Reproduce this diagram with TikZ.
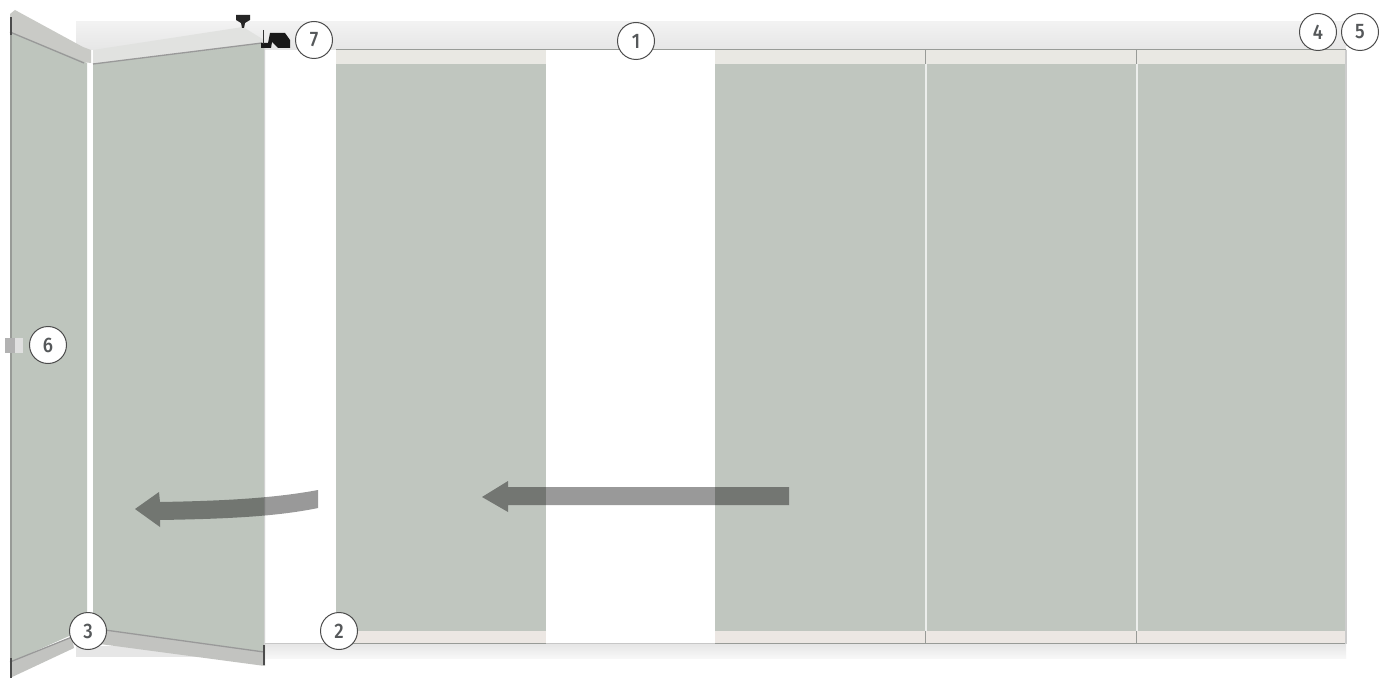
\documentclass[tikz,border=0pt]{standalone}
\usepackage{fontspec}
\setmainfont{Fira Sans}[UprightFont=* Medium,FakeStretch=0.88]
\definecolor{glass}{HTML}{C0C6BF}
\definecolor{glassb}{HTML}{BEC5BD}
\definecolor{strip}{HTML}{E9E8E3}
\definecolor{stripb}{HTML}{ECE7E3}
\definecolor{railtop}{HTML}{F2F2F2}
\definecolor{railbot}{HTML}{E6E6E6}
\definecolor{band}{HTML}{C9CAC6}
\definecolor{bandd}{HTML}{C2C3C0}
\definecolor{edge}{HTML}{989B97}
\definecolor{num}{HTML}{55585A}
\tikzset{
  x=1pt,y=-1pt,
  glasspanel/.style={fill=glass,draw=none},
  stripe/.style={fill=strip,draw=none},
  bstripe/.style={fill=stripb,draw=none},
  edgeline/.style={draw=edge,line width=1.5pt},
  darkline/.style={draw=black!70,line width=2pt},
  seam/.style={draw=white!70!glass,line width=2pt},
  moveArrow/.style={fill=black,fill opacity=.4,draw=none},
  callout/.style={circle,draw=black!70,line width=1pt,fill=white,minimum size=37pt,inner sep=0pt,text=num,font=\fontsize{21}{21}\selectfont}
}
\begin{document}
\begin{tikzpicture}
\useasboundingbox (0,0) rectangle (1390,679);
\fill[white] (0,0) rectangle (1390,679);
% top rail
\shade[top color=railtop,bottom color=railbot] (76,22) rectangle (1346,50);
% bottom rail
\shade[top color=railbot,bottom color=railtop!60!white] (265,644) rectangle (1346,658);
\fill[railbot] (76,646) rectangle (265,657);
% white gaps under the top rail
\fill[white] (265,50) rectangle (336,643);
\fill[white] (546,50) rectangle (715,643);
% header and foot strips
\foreach \a/\b in {336/546,715/925,926/1136,1137/1346}{
  \fill[stripe] (\a,50) rectangle (\b,64);
  \fill[glasspanel] (\a,64) rectangle (\b,631);
  \fill[bstripe] (\a,631) rectangle (\b,643);
}
\draw[edgeline] (336,49.5) -- (1346,49.5);
\draw[draw=black!22,line width=1.5pt] (265,643.5) -- (336,643.5);
\draw[draw=black!22,line width=1.5pt] (546,643.5) -- (715,643.5);
\draw[edgeline] (336,643.5) -- (546,643.5);
\draw[edgeline] (715,643.5) -- (1346,643.5);
\draw[draw=black!20,line width=1.5pt] (1346,50) -- (1346,644);
\foreach \s in {925.5,1136.5}{
  \draw[seam] (\s,64) -- (\s,631);
  \draw[draw=edge,line width=1.2pt] (\s,50) -- (\s,64);
  \draw[draw=edge,line width=1.2pt] (\s,631) -- (\s,644);
}
% folded leaf, top frame and bottom frame
\fill[band] (15,10) -- (83,47) -- (91,50) -- (91,63) -- (82,62) -- (10,32) -- (10,14) -- cycle;
\fill[band!55!white] (93,50) -- (243,27) -- (264,40) -- (264,44) -- (93,64) -- cycle;
\fill[bandd] (10,662) -- (72,637) -- (74,648) -- (10,678) -- cycle;
\fill[bandd] (105,629) -- (265,652) -- (265,666) -- (100,644) -- cycle;
% glass leaves
\fill[glassb] (11,32) -- (87,63) -- (87,628) -- (11,662) -- cycle;
\fill[glassb] (93,64) -- (265,43) -- (265,652) -- (93,628) -- cycle;
\draw[draw=black!40,line width=1.3pt] (10,32) -- (84,63);
\draw[draw=black!40,line width=1.3pt] (93,64) -- (262,43);
\draw[draw=black!40,line width=1.3pt] (10,662) -- (72,637);
\draw[draw=black!40,line width=1.3pt] (105,630) -- (264,652);
\draw[draw=edge,line width=2pt] (10.5,32) -- (10.5,662);
\draw[draw=black!18,line width=1pt] (264.5,44) -- (264.5,652);
% dark hinge lines
\draw[darkline] (10.5,17) -- (10.5,35);
\draw[darkline] (10.5,658) -- (10.5,678);
\draw[darkline] (264,645) -- (264,665);
% hardware
\fill[black!85] (236,15) -- (250,15) -- (250,20) -- (245,23) -- (244,28) -- (242,28) -- (241,23) -- (236,20) -- cycle;
\fill[black!90] (261,43) -- (268,43) -- (270,33) -- (285,33) -- (290,40) -- (290,48) -- (278,48) -- (272,42) -- (271,48) -- (261,48) -- cycle;
\draw[draw=black!80,line width=.7pt] (263,30) -- (263,44);
\fill[black!30] (5,338) rectangle (15,353);
\fill[black!12] (15,338) rectangle (23,353);
% movement arrows
\fill[moveArrow] (789,487) -- (508,487) -- (508,481) -- (482,497) -- (508,512) -- (508,505) -- (789,505) -- cycle;
\fill[moveArrow] (318,490) .. controls (270,499) and (215,501) .. (160,502) -- (159,492) -- (135,509) -- (160,527) -- (160,520) .. controls (220,519) and (275,517) .. (318,508) -- cycle;
% callouts
\node[callout] (n1) at (636,41) {1};
\node[callout] (n7) at (314,40) {7};
\node[callout] (n4) at (1318,32) {4};
\node[callout] (n5) at (1360,32) {5};
\node[callout] (n6) at (48,345) {6};
\node[callout] (n3) at (88,631) {3};
\node[callout] (n2) at (339,631) {2};
\end{tikzpicture}
\end{document}
